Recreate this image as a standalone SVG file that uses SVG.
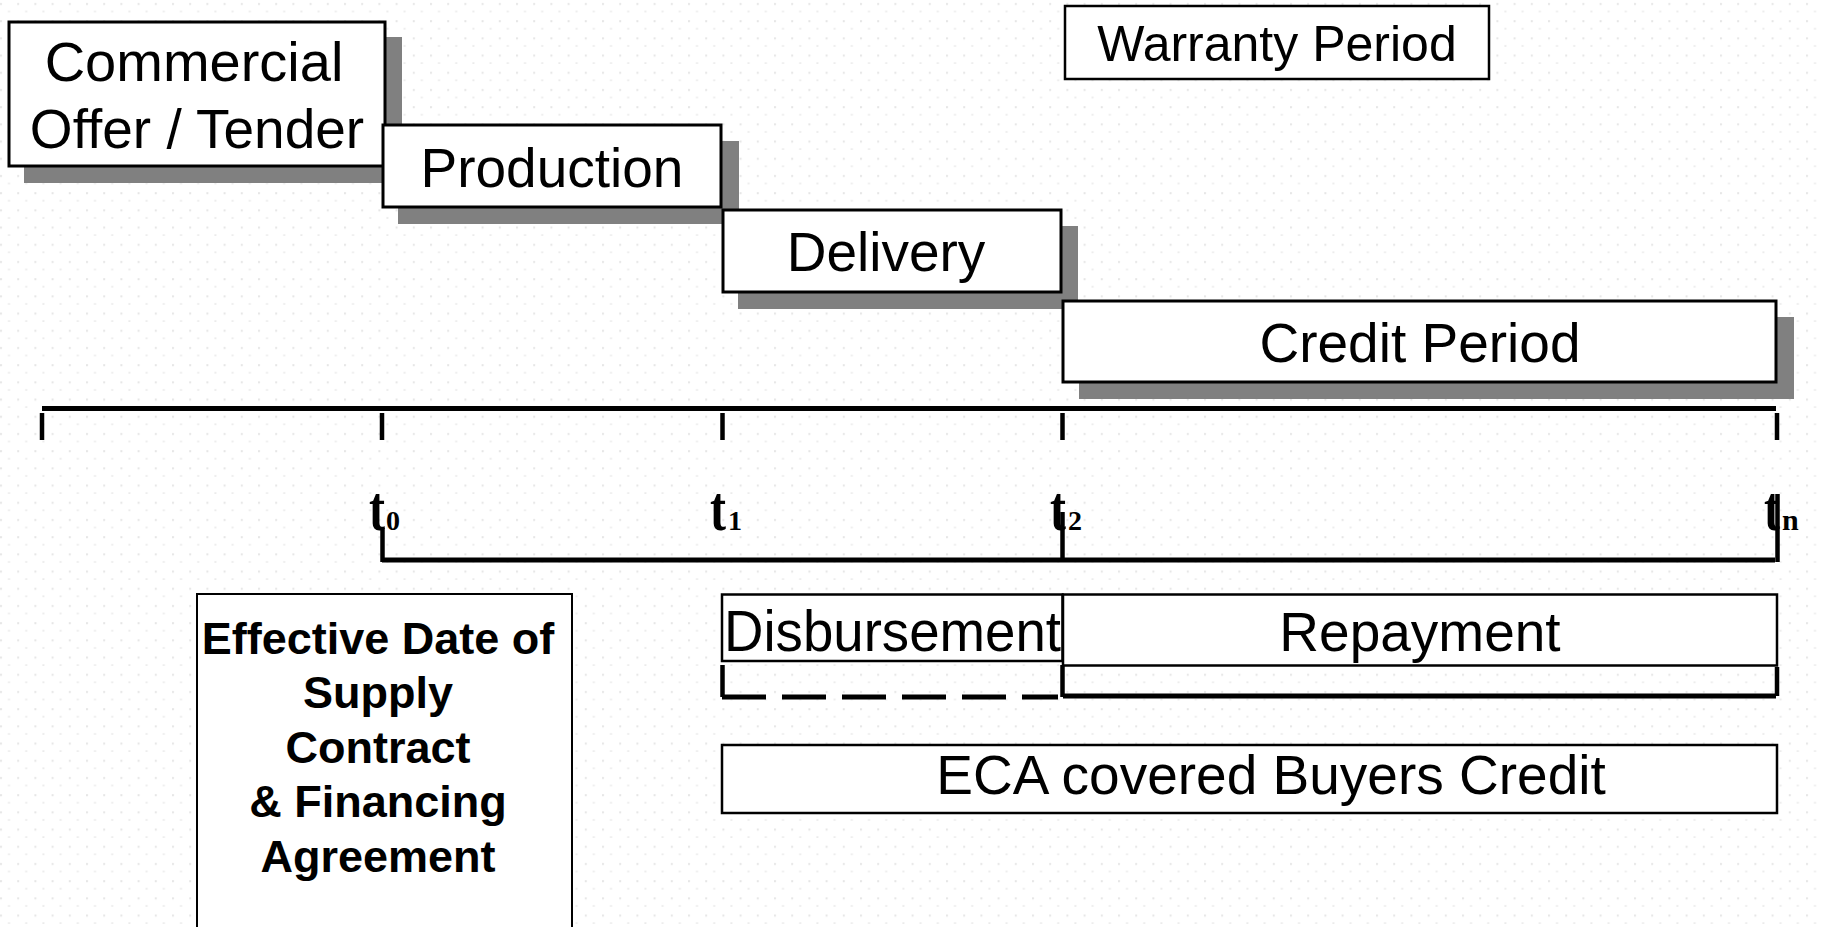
<svg xmlns="http://www.w3.org/2000/svg" width="1822" height="927" viewBox="0 0 1822 927">
  <style>
    .box { fill: #ffffff; stroke: #000000; stroke-width: 3; }
    .thin { fill: #ffffff; stroke: #000000; stroke-width: 2; }
    .shadow { fill: #808080; stroke: none; }
    .lbl { font-family: "Liberation Sans", Arial, sans-serif; font-size: 55px; fill: #000000; text-anchor: middle; }
    .blbl { font-family: "Liberation Sans", Arial, sans-serif; font-size: 45px; font-weight: bold; fill: #000000; text-anchor: middle; }
    .tl { font-family: "Liberation Serif", "Times New Roman", serif; font-weight: bold; font-size: 64px; fill: #000000; }
    .sub { font-family: "Liberation Serif", "Times New Roman", serif; font-weight: bold; font-size: 28px; fill: #000000; }
    .axis { stroke: #000000; stroke-width: 5; fill: none; }
    .tick { stroke: #000000; stroke-width: 4.5; fill: none; }
  </style>
  <defs>
    <pattern id="dots" patternUnits="userSpaceOnUse" x="0" y="0" width="17.2" height="17.2">
      <rect x="8" y="11" width="2" height="1" fill="#dcdcdc"/>
      <rect x="0" y="3" width="2" height="2" fill="#e6e6e6"/>
    </pattern>
  </defs>
  <rect x="0" y="0" width="1822" height="927" fill="#ffffff"/>
  <rect x="0" y="0" width="1822" height="927" fill="url(#dots)"/>

  <g id="commercial">
    <rect class="shadow" x="24" y="37" width="378" height="146"/>
    <rect class="box" x="9" y="22" width="376" height="144"/>
    <text class="lbl" x="194" y="81" style="font-size:56px">Commercial</text>
    <text class="lbl" x="197" y="148">Offer / Tender</text>
  </g>

  <g id="production">
    <rect class="shadow" x="398" y="141" width="341" height="83"/>
    <rect class="box" x="383" y="125" width="338" height="82"/>
    <text class="lbl" x="552" y="187">Production</text>
  </g>

  <g id="delivery">
    <rect class="shadow" x="738" y="226" width="340" height="83"/>
    <rect class="box" x="723" y="210" width="338" height="82"/>
    <text class="lbl" x="886" y="271">Delivery</text>
  </g>

  <g id="warranty">
    <rect class="box" x="1065" y="6" width="424" height="73" style="stroke-width:2.5"/>
    <text class="lbl" x="1277" y="61" style="font-size:50px">Warranty Period</text>
  </g>

  <g id="credit">
    <rect class="shadow" x="1079" y="317" width="715" height="82"/>
    <rect class="box" x="1063" y="301" width="713" height="81"/>
    <text class="lbl" x="1420" y="362">Credit Period</text>
  </g>

  <g id="connectors">
    <line class="axis" x1="42" y1="408.5" x2="1776" y2="408.5"/>
    <line class="tick" x1="42" y1="413" x2="42" y2="440"/>
    <line class="tick" x1="382" y1="413" x2="382" y2="440"/>
    <line class="tick" x1="722.5" y1="413" x2="722.5" y2="440"/>
    <line class="tick" x1="1062.5" y1="413" x2="1062.5" y2="440"/>
    <line class="tick" x1="1777" y1="413" x2="1777" y2="440"/>

    <line class="axis" x1="382" y1="560" x2="1775" y2="560"/>
    <line class="tick" x1="382.5" y1="528" x2="382.5" y2="562"/>
    <line class="tick" x1="1062.5" y1="512" x2="1062.5" y2="560"/>
    <line class="tick" x1="1777.5" y1="494" x2="1777.5" y2="562"/>

    <line class="tick" x1="722.5" y1="665" x2="722.5" y2="697"/>
    <line class="axis" x1="722" y1="697" x2="1058" y2="697" stroke-dasharray="44 16"/>
    <line class="tick" x1="1062.5" y1="665" x2="1062.5" y2="697"/>
    <line class="axis" x1="1063" y1="696" x2="1776" y2="696"/>
    <line class="tick" x1="1777" y1="667" x2="1777" y2="696"/>
  </g>

  <g id="t-labels">
    <text class="tl" transform="translate(369,530) scale(0.75,1)">t</text>
    <text class="sub" x="386" y="530">0</text>
    <text class="tl" transform="translate(710,530) scale(0.75,1)">t</text>
    <text class="sub" x="728" y="530">1</text>
    <text class="tl" transform="translate(1050,530) scale(0.75,1)">t</text>
    <text class="sub" x="1068" y="530">2</text>
    <text class="tl" transform="translate(1764,530) scale(0.75,1)">t</text>
    <text class="sub" x="1782" y="530" style="font-size:30px">n</text>
  </g>

  <g id="effective">
    <rect class="thin" x="197" y="594" width="375" height="345"/>
    <text class="blbl" x="378" y="654">Effective Date of</text>
    <text class="blbl" x="378" y="708">Supply</text>
    <text class="blbl" x="378" y="763">Contract</text>
    <text class="blbl" x="378" y="817">&amp; Financing</text>
    <text class="blbl" x="378" y="872">Agreement</text>
  </g>

  <g id="disbursement">
    <rect class="box" x="722" y="594.5" width="340.5" height="66.5" style="stroke-width:2.5"/>
    <text class="lbl" x="724" y="651" style="text-anchor:start;font-size:57px" textLength="337" lengthAdjust="spacingAndGlyphs">Disbursement</text>
  </g>

  <g id="repayment">
    <rect class="box" x="1063" y="594.5" width="714" height="71" style="stroke-width:2.5"/>
    <text class="lbl" x="1420" y="651">Repayment</text>
  </g>

  <g id="eca">
    <rect class="box" x="722" y="745" width="1055" height="68" style="stroke-width:2.5"/>
    <text class="lbl" x="1271" y="794">ECA covered Buyers Credit</text>
  </g>
</svg>
